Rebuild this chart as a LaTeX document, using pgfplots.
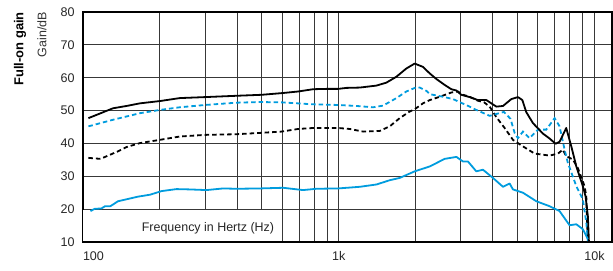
\documentclass[border=0pt]{standalone}
\usepackage{fontspec}
\setmainfont{Liberation Sans}
\usepackage{pgfplots}
\pgfplotsset{compat=1.18}
\definecolor{cblue}{RGB}{0,156,222}
\begin{document}
\begin{tikzpicture}
\begin{axis}[name=ax, scale only axis, width=529bp, height=230bp,
  xmode=log, xmin=100, xmax=11700, ymin=10, ymax=80,
  xtick={100,1000,10000}, xticklabels={\makebox[0pt][l]{100},1k,10k},
  minor xtick={200,300,400,500,600,700,800,900,2000,3000,4000,5000,6000,7000,8000,9000},
  ytick={10,20,30,40,50,60,70,80},
  grid=both,
  major grid style={black!78, line width=1bp},
  minor grid style={black!78, line width=1bp},
  tick style={draw=none},
  axis line style={black, line width=1.2bp},
  tick label style={font=\fontsize{12.6}{14}\selectfont, text=black!85},
  /pgf/number format/assume math mode=true,
  xticklabel style={yshift=-6bp},
  yticklabel style={xshift=-5bp},
]
\fill[white] (axis cs:100.4,10.25) rectangle (axis cs:588,19.8);
\node[font=\fontsize{12.5}{14}\selectfont, text=black!85] at (axis cs:308,14.2) {Frequency in Hertz (Hz)};
% dashed black
\addplot[black, line width=1.8bp, dash pattern=on 4.5bp off 3bp] coordinates {
(105,35.6)(117,35.3)(128,36.6)(137,37.6)(148,38.9)(167,40.1)(200,41.1)(239,42.1)(300,42.6)(398,42.8)(491,43.2)
(597,43.6)(693,44.4)(794,44.7)(994,44.7)(1104,44.4)(1245,43.6)(1445,43.8)(1582,45.2)(1731,47.7)
(1893,49.7)(1980,50.4)(2133,52.2)(2268,53.2)(2480,54.2)(2755,55.5)(2924,55.8)(3059,54.8)(3249,54.2)
(3499,53.0)(3700,52.5)(3890,51.2)(4130,48.0)(4450,44.7)(4796,41.1)(5248,39.1)(5830,36.9)(6668,36.3)
(7190,36.9)(7520,38.1)(7750,36.1)(8227,35.1)(8606,32.5)(9138,27.0)(9283,23.9)(9333,17.9)(9415,10)
};
% dashed blue
\addplot[cblue, line width=1.8bp, dash pattern=on 4.5bp off 3bp] coordinates {
(105,45.2)(131,47.2)(167,49.2)(200,50.2)(239,51.0)(300,51.7)(398,52.4)(491,52.6)(597,52.5)(794,51.9)
(994,51.7)(1173,51.4)(1361,51.0)(1490,51.5)(1680,53.8)(1837,55.8)(2011,57.1)(2072,57.0)(2201,56.0)
(2268,55.0)(2555,54.2)(2796,53.5)(3249,51.2)(3449,50.2)(3890,48.4)(4420,49.6)(4690,47.5)(4870,43.2)
(5016,41.6)(5248,43.6)(5572,41.6)(6005,44.2)(6475,44.2)(6980,47.7)(7298,45.2)(7637,38.1)(7865,34.1)
(8484,27.0)(8997,23.0)(9283,16.0)(9415,10.3)
};
% solid black
\addplot[black, line width=1.8bp, line join=round] coordinates {
(105,47.7)(131,50.7)(148,51.4)(167,52.2)(200,52.9)(239,53.8)(300,54.1)(398,54.5)(499,54.8)(597,55.3)
(693,55.8)(794,56.5)(895,56.6)(994,56.6)(1072,56.9)(1208,57.0)(1403,57.6)(1535,58.5)(1680,60.3)
(1837,62.8)(1980,64.3)(2133,63.3)(2268,61.3)(2408,59.6)(2594,57.8)(2755,56.5)(2883,56.1)(3013,54.8)
(3249,54.1)(3499,53.2)(3776,53.2)(4130,51.2)(4385,51.4)(4728,53.5)(5016,54.1)(5219,53.2)(5410,49.5)
(5741,46.2)(6281,43.0)(6668,41.5)(7044,39.9)(7300,40.5)(7750,44.7)(8110,39.1)(8484,33.0)(8997,27.0)
(9222,23.9)(9415,17.9)(9505,10)
};
% solid blue
\addplot[cblue, line width=1.8bp, line join=round] coordinates {
(107,19.4)(111,20.1)(118,20.2)(122,20.9)(128,20.9)(137,22.4)(148,23.0)(164,23.8)(183,24.4)(203,25.5)
(232,26.1)(262,26.0)(304,25.8)(353,26.3)(398,26.2)(491,26.3)(606,26.5)(725,25.8)(818,26.2)(994,26.3)
(1208,26.8)(1403,27.5)(1582,28.8)(1731,29.5)(1980,31.5)(2268,33.0)(2594,35.3)(2883,35.9)(3059,34.5)
(3200,34.5)(3449,31.5)(3662,32.0)(4006,29.5)(4385,26.8)(4656,27.8)(4796,26.0)(5248,25.0)(5920,22.4)
(6668,20.9)(7298,19.4)(7985,15.1)(8484,15.4)(8997,13.9)(9415,10.9)
};
\end{axis}
\node[rotate=90, anchor=east, inner sep=0pt, font=\bfseries\fontsize{13}{15}\selectfont] at ([xshift=-63bp]ax.north west) {Full-on gain};
\node[rotate=90, anchor=east, inner sep=0pt, font=\fontsize{12.5}{14}\selectfont, text=black!80] at ([xshift=-41bp]ax.north west) {Gain/dB};
\pgfresetboundingbox
\path[use as bounding box] ([xshift=-83bp,yshift=-29bp]ax.south west) rectangle ([xshift=1bp,yshift=12bp]ax.north east);
\end{tikzpicture}
\end{document}
